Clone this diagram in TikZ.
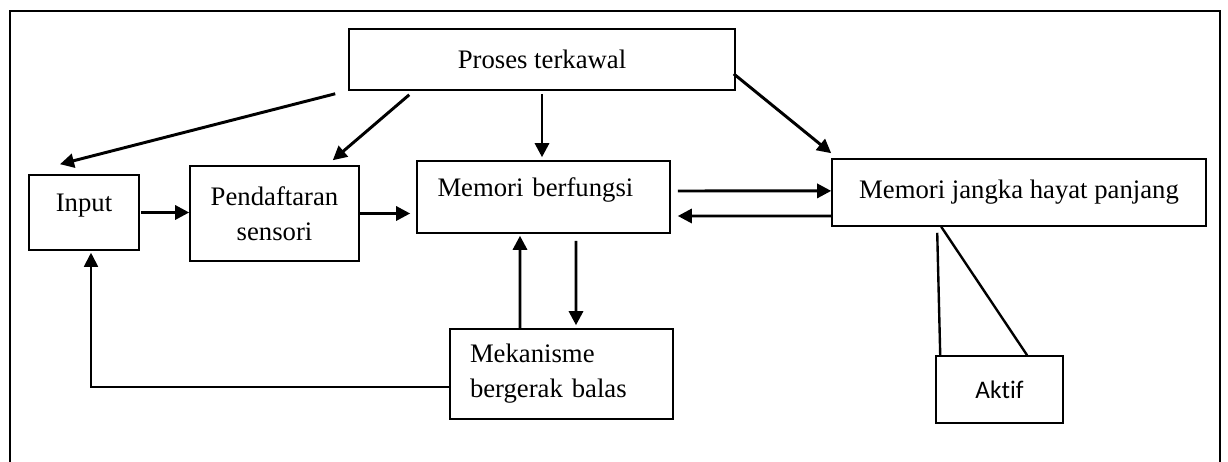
\documentclass[tikz,border=0pt]{standalone}
\usepackage{fontspec}
\setmainfont{Liberation Serif}
\newfontfamily\aktiffont[Ligatures=NoCommon]{Carlito}
\usetikzlibrary{arrows.meta}

\begin{document}
\begin{tikzpicture}[
  box/.style={draw,line width=1.1pt,inner sep=0pt,font=\fontsize{19}{25}\selectfont},
  arr/.style={line width=2.1pt,-{Triangle[length=0.35cm,width=0.35cm]}},
  backarr/.style={line width=1.3pt,-{Triangle[length=0.35cm,width=0.35cm]}}]
%\draw[step=1cm,gray,very thin] (0,0) grid (30.7,11.55);
\useasboundingbox (0,0) rectangle (30.7,11.55);
\draw[line width=0.8pt] (0.25,-0.2)--(0.25,11.275)--(30.5,11.275)--(30.5,-0.2);
\node[box,minimum width=9.65cm,minimum height=1.525cm] (proses) at (13.55,10.0625) {Proses terkawal};
\node[box,minimum width=2.75cm,minimum height=1.875cm,text height=0.44cm,text depth=0.48cm] (input) at (2.1,6.2375) {Input};
\node[box,minimum width=4.225cm,minimum height=2.375cm,align=center] (pend) at (6.8625,6.2125) {Pendaftaran\\sensori};
\node[box,minimum width=6.325cm,minimum height=1.8cm,text width=5.3cm,align=left,text height=0.44cm,text depth=0.45cm] (mb) at (13.5875,6.625) {Memori berfungsi};
\node[box,minimum width=9.35cm,minimum height=1.675cm] (mj) at (25.475,6.7375) {Memori jangka hayat panjang};
\node[box,minimum width=5.575cm,minimum height=2.25cm,text width=4.575cm,align=left] (mek) at (14.0375,2.2) {Mekanisme\\bergerak balas};
\node[box,minimum width=3.175cm,minimum height=1.675cm,font=\aktiffont\fontsize{18}{22}\selectfont] (aktif) at (24.9875,1.8125) {Aktif};
\draw[arr] ([shift={(-0.325,-0.075)}]proses.south west) -- ([shift={(-0.6,0.25)}]input.north);
\draw[arr] ([shift={(1.525,-0.1)}]proses.south west) -- ([shift={(-0.675,0.125)}]pend.north east);
\draw[arr] ([yshift=-0.075cm]proses.south) -- ([yshift=0.075cm]proses.south |- mb.north);
\draw[arr] ([shift={(-0.05,-0.36)}]proses.east) -- ([yshift=0.125cm]mj.north west);
\draw[arr] ([xshift=0.025cm]input.east) -- (input.east -| pend.west);
\draw[arr,shorten >=0.15cm] (pend.east) -- (pend.east -| mb.west);
\draw[arr] ([shift={(0.175,0.15)}]mb.east) -- ([yshift=0.04cm]mj.west);
\draw[arr] ([yshift=-0.5875cm]mj.west) -- ([shift={(0.175,-0.475)}]mb.east);
\draw[arr] ([xshift=-1.0375cm]mek.north) -- ([shift={(-0.5875,-0.05)}]mb.south);
\draw[arr] ([shift={(0.8125,-0.175)}]mb.south) -- ([shift={(0.3625,0.075)}]mek.north);
\draw[backarr] ([yshift=-0.325cm]mek.west) -| ([shift={(0.175,-0.05)}]input.south);
\draw[line width=1.7pt] ([shift={(2.65,-0.15)}]mj.south west) -- ([xshift=0.125cm]aktif.north west);
\draw[line width=1.7pt] ([xshift=2.75cm]mj.south west) -- ([xshift=0.69cm]aktif.north);
\end{tikzpicture}
\end{document}
